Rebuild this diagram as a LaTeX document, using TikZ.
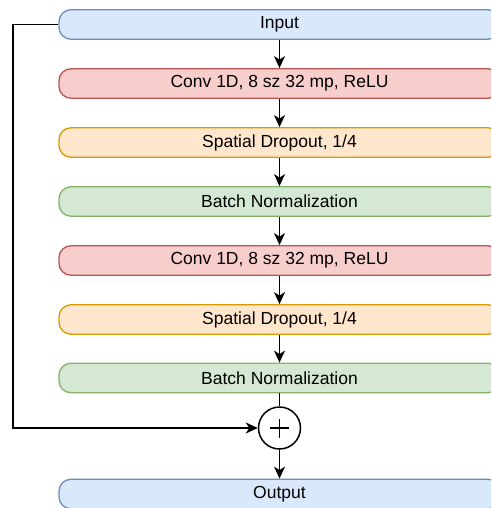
\documentclass[tikz,border=0pt]{standalone}
\usepackage{fontspec}
\setmainfont{Liberation Sans}
\usetikzlibrary{arrows.meta}
\definecolor{bfill}{HTML}{DAE8FC}\definecolor{bdraw}{HTML}{6C8EBF}
\definecolor{rfill}{HTML}{F8CECC}\definecolor{rdraw}{HTML}{B85450}
\definecolor{ofill}{HTML}{FFE6CC}\definecolor{odraw}{HTML}{D79B00}
\definecolor{gfill}{HTML}{D5E8D4}\definecolor{gdraw}{HTML}{82B366}
\tikzset{
  layer/.style={rounded corners=12pt, minimum width=441pt, minimum height=29.5pt, inner sep=0pt,
    line width=1.3pt, font=\fontsize{17.5}{20}\selectfont, text=black},
  blue/.style={layer, fill=bfill, draw=bdraw},
  red/.style={layer, fill=rfill, draw=rdraw},
  orange/.style={layer, fill=ofill, draw=odraw},
  green/.style={layer, fill=gfill, draw=gdraw},
  conn/.style={line width=1.7pt, -{Stealth[length=12pt, width=11pt, inset=3.5pt]}},
}
\begin{document}
\begin{tikzpicture}[x=1pt,y=-1pt]
\useasboundingbox (0,0) rectangle (491,508);
\clip (0,0) rectangle (491,508);
\node[blue]   (in) at (279.5,24.5) {Input};
\node[red]    (c1) at (279.5,83.5) {Conv 1D, 8 sz 32 mp, ReLU};
\node[orange] (d1) at (279.5,142.5) {Spatial Dropout, 1/4};
\node[green]  (b1) at (279.5,201.5) {Batch Normalization};
\node[red]    (c2) at (279.5,260.5) {Conv 1D, 8 sz 32 mp, ReLU};
\node[orange] (d2) at (279.5,319.5) {Spatial Dropout, 1/4};
\node[green]  (b2) at (279.5,378) {Batch Normalization};
\node[circle, draw=black, line width=1.5pt, fill=white, minimum size=42pt, inner sep=0pt] (sum) at (279.5,428) {};
\draw[line width=1.6pt] ([xshift=-9.5pt]sum.center) -- ([xshift=9.5pt]sum.center)
  ([yshift=-9.5pt]sum.center) -- ([yshift=9.5pt]sum.center);
\node[blue]   (out) at (279.5,494) {Output};
\draw[conn] (in) -- (c1);
\draw[conn] (c1) -- (d1);
\draw[conn] (d1) -- (b1);
\draw[conn] (b1) -- (c2);
\draw[conn] (c2) -- (d2);
\draw[conn] (d2) -- (b2);
\draw[line width=1.7pt] (b2) -- (sum);
\draw[conn] (sum) -- (out);
\coordinate (corner) at (13,24.5);
\draw[conn] (in.west) -- (corner) |- (sum.west);
\end{tikzpicture}
\end{document}
